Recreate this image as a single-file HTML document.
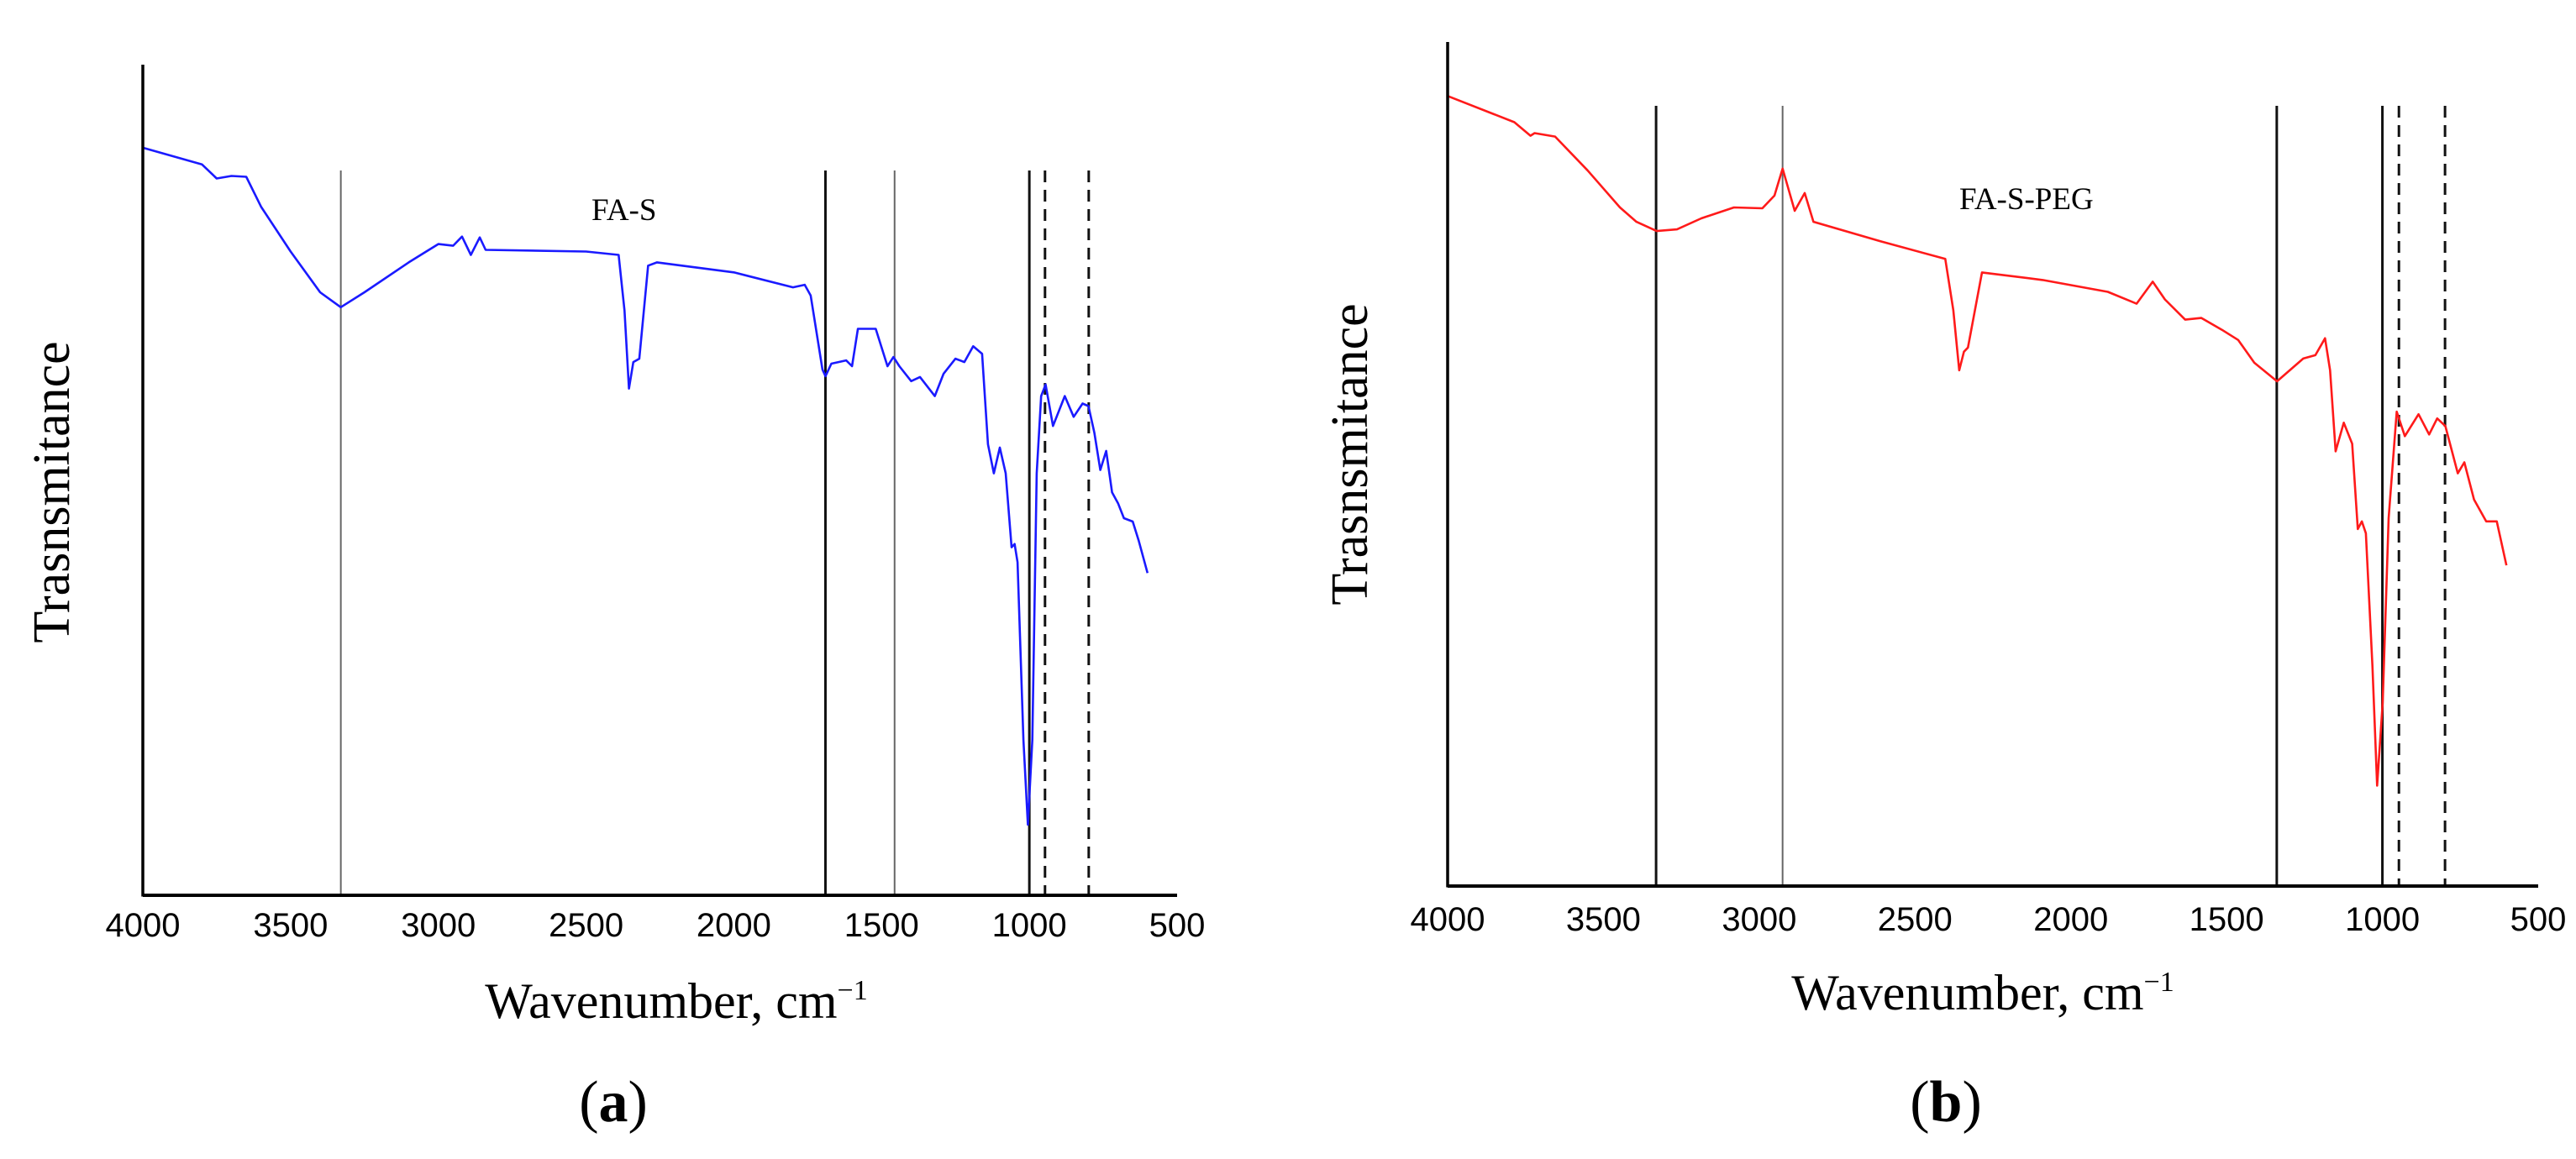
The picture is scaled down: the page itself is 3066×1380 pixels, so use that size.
<!DOCTYPE html>
<html><head><meta charset="utf-8"><style>
html,body{margin:0;padding:0;background:#fff;overflow:hidden;}
svg{display:block;}
.tick{font-family:"Liberation Sans",Arial,sans-serif;font-size:40px;fill:#000;}
.ser{font-family:"Liberation Serif","Times New Roman",serif;fill:#000;}
</style></head><body>
<svg id="fig" width="3066" height="1380" viewBox="0 0 3066 1380" xmlns="http://www.w3.org/2000/svg">
<rect width="3066" height="1380" fill="#fff"/>
</svg>
<script>
// Panel (a) FA-S data
const ticksX = [4000, 3500, 3000, 2500, 2000, 1500, 1000, 500];
const aWave = [4000,3800,3750,3700,3650,3600,3500,3400,3330,3250,3100,3000,2950,2920,2890,2860,2840,2500,2390,2370,2355,2340,2320,2290,2260,2000,1800,1760,1740,1700,1690,1670,1620,1600,1580,1520,1480,1460,1440,1400,1370,1320,1290,1250,1220,1190,1160,1140,1120,1100,1080,1060,1050,1040,1020,1005,990,975,960,945,920,880,850,820,800,780,760,740,720,700,680,650,630,600];
const aTrans = [90.0,88.0,86.3,86.6,86.5,82.9,77.5,72.6,70.8,72.6,76.2,78.4,78.2,79.3,77.1,79.2,77.7,77.5,77.1,70.4,61.0,64.2,64.6,75.8,76.2,75.0,73.2,73.5,72.2,63.3,62.5,64.0,64.4,63.7,68.2,68.2,63.7,64.8,63.7,61.9,62.4,60.1,62.8,64.6,64.2,66.1,65.2,54.3,50.8,53.9,50.8,41.9,42.3,40.1,18.7,8.5,18.7,50.8,60.1,61.5,56.5,60.1,57.6,59.2,58.9,55.7,51.2,53.5,48.5,47.2,45.4,45.0,42.7,38.8];
const aSolid = [3330, 1690, 1456, 1000];
const aSolidGray = [true, false, true, false];
const aDashed = [947, 799];
// Panel (b) FA-S-PEG data
const bWave = [4000,3786,3734,3721,3655,3551,3447,3394,3329,3264,3186,3081,2990,2951,2925,2886,2854,2826,2611,2403,2377,2358,2343,2330,2285,2090,1881,1789,1737,1698,1633,1581,1515,1463,1411,1338,1254,1215,1184,1168,1150,1124,1097,1079,1066,1053,1032,1017,999,980,954,928,884,850,824,798,758,737,706,667,633,602];
const bTrans = [93.6,90.5,88.9,89.2,88.8,84.8,80.4,78.7,77.6,77.8,79.1,80.4,80.3,81.8,85.0,80.0,82.1,78.7,76.4,74.3,68.2,61.1,63.3,63.8,72.7,71.8,70.4,69.0,71.6,69.5,67.1,67.3,65.9,64.7,62.0,59.8,62.5,62.9,64.9,61.1,51.5,54.9,52.4,42.3,43.2,41.8,26.1,11.9,21.7,43.6,56.2,53.3,55.9,53.5,55.4,54.5,48.9,50.2,45.8,43.2,43.2,38.0];
const bSolid = [3331, 2925, 1339, 1000];
const bSolidGray = [false, true, false, false];
const bDashed = [947, 799];

const NS = "http://www.w3.org/2000/svg";
const svg = document.getElementById('fig');
function mk(tag, attrs, parent){
  const e = document.createElementNS(NS, tag);
  for (const k in attrs) e.setAttribute(k, attrs[k]);
  (parent||svg).appendChild(e);
  return e;
}
function panel(cfg){
  const g = mk('g', {});
  
  
  const X = w => cfg.x0 + (4000 - w) / 3500 * (cfg.x1 - cfg.x0);
  const Y = t => cfg.yb - t / 100 * (cfg.yb - cfg.yt);
  cfg.solid.forEach((w, i) => {
    const l = mk('line', {x1:X(w), x2:X(w), y1:cfg.ly, y2:cfg.yb, stroke: cfg.gray[i] ? '#666' : '#111', 'stroke-width': cfg.gray[i] ? 2 : 3}, g);
    
    
  });
  cfg.dashed.forEach(w => {
    const l = mk('line', {x1:X(w), x2:X(w), y1:cfg.ly, y2:cfg.yb, stroke:'#111', 'stroke-width':3, 'stroke-dasharray':'14 9'}, g);
    
    
  });
  const d = cfg.wave.map((w, i) => (i ? 'L' : 'M') + X(w).toFixed(1) + ',' + Y(cfg.trans[i]).toFixed(1)).join(' ');
  const p = mk('path', {d:d, fill:'none', stroke:cfg.color, 'stroke-width':2.6, 'stroke-linejoin':'round'}, g);
  
  
  const ya = mk('line', {x1:cfg.x0, x2:cfg.x0, y1:cfg.yt, y2:cfg.yb + 1.5, stroke:'#000', 'stroke-width':3.5}, g);
  
  
  const xa = mk('line', {x1:cfg.x0, x2:cfg.x1, y1:cfg.yb, y2:cfg.yb, stroke:'#000', 'stroke-width':4}, g);
  
  
  ticksX.forEach(t => {
    const tx = mk('text', {x:X(t), y:cfg.tickY, 'text-anchor':'middle', class:'tick'}, g);
    tx.textContent = t;
    
    
  });
  const lab = mk('text', {x:cfg.labX, y:cfg.labY, class:'ser', 'font-size':37}, g);
  lab.textContent = cfg.label;
  
  
  const xt = mk('text', {x:cfg.xtX, y:cfg.xtY, 'text-anchor':'middle', class:'ser', 'font-size':60}, g);
  xt.innerHTML = 'Wavenumber, cm<tspan font-size="34" dy="-22">−1</tspan>';
  
  
  const yt = mk('text', {x:0, y:0, 'text-anchor':'middle', class:'ser', 'font-size':62, transform:'translate(' + cfg.ytX + ',' + cfg.ytY + ') rotate(-90)'}, g);
  yt.textContent = 'Trasnsmitance';
  
  
  const pl = mk('text', {x:cfg.pX, y:cfg.pY, 'text-anchor':'middle', class:'ser', 'font-size':70}, g);
  pl.innerHTML = '(<tspan font-weight="bold">' + cfg.letter + '</tspan>)';
  
  
}
panel({id:'panel-a', x0:170, x1:1401, yt:77, yb:1066, ly:203, wave:aWave, trans:aTrans, color:'#1a1aff',
  solid:aSolid, gray:aSolidGray, dashed:aDashed, tickY:1115, label:'FA-S', labX:704, labY:262,
  xtX:805, xtY:1212, ytX:82, ytY:586, pX:730, pY:1335, letter:'a'});
panel({id:'panel-b', x0:1723, x1:3021, yt:50, yb:1055, ly:126, wave:bWave, trans:bTrans, color:'#ff1a1a',
  solid:bSolid, gray:bSolidGray, dashed:bDashed, tickY:1108, label:'FA-S-PEG', labX:2332, labY:249,
  xtX:2360, xtY:1202, ytX:1627, ytY:541, pX:2316, pY:1335, letter:'b'});
</script>
</body></html>
